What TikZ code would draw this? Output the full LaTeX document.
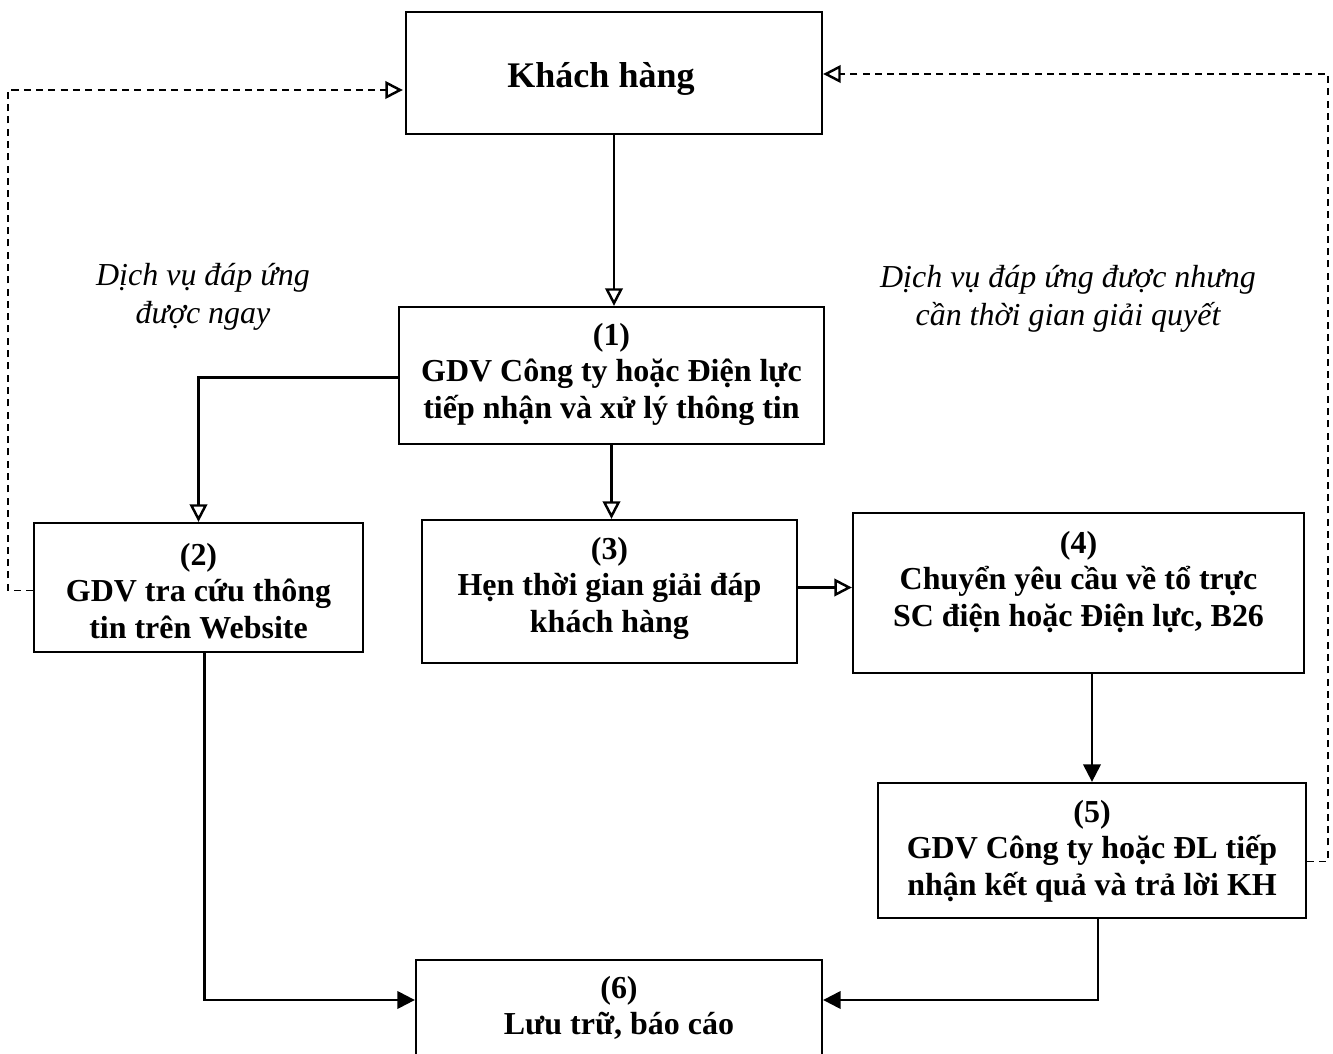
\documentclass[tikz,border=0pt]{standalone}
\usepackage{fontspec}
\setmainfont{Liberation Serif}
\usetikzlibrary{arrows.meta,calc}
\begin{document}
\begin{tikzpicture}[x=0.02cm,y=-0.02cm,
  box/.style={draw,line width=1.3pt,inner sep=0pt},
  txt/.style={align=center,font=\fontsize{18.2}{20.8}\selectfont\bfseries,inner sep=0pt},
  lbl/.style={align=center,font=\fontsize{18.2}{21.5}\selectfont\itshape,inner sep=0pt},
  conn/.style={line width=1.3pt},
  opena/.style={-{Triangle[open,length=10pt,width=10pt,line width=1.4pt]}},
  filla/.style={-{Triangle[length=10pt,width=10pt]}},
  dsh/.style={line width=0.9pt,dash pattern=on 4pt off 3pt}]
\useasboundingbox (0,0) rectangle (1333,1054);
\fill[white] (0,0) rectangle (1333,1054);
% boxes
\node[box,minimum width=416*0.02cm,minimum height=122*0.02cm] (kh) at (614,73) {};
\node[txt,font=\fontsize{20.5}{23}\selectfont\bfseries] (tkh) at (601,79) {Khách hàng};
\node[box,minimum width=425*0.02cm,minimum height=137*0.02cm] (b1) at (611.5,375.5) {};
\node[txt] (t1) at (611.5,374) {(1)\\GDV Công ty hoặc Điện lực\\tiếp nhận và xử lý thông tin};
\node[box,minimum width=329*0.02cm,minimum height=129*0.02cm] (b2) at (198.5,587.5) {};
\node[txt] (t2) at (198.5,591) {(2)\\GDV tra cứu thông\\tin trên Website};
\node[box,minimum width=375*0.02cm,minimum height=143*0.02cm] (b3) at (609.5,591.5) {};
\node[txt] (t3) at (609.5,588) {(3)\\Hẹn thời gian giải đáp\\khách hàng};
\node[box,minimum width=451*0.02cm,minimum height=160*0.02cm] (b4) at (1078.5,593) {};
\node[txt] (t4) at (1078.5,582) {(4)\\Chuyển yêu cầu về tổ trực\\SC điện hoặc Điện lực, B26};
\node[box,minimum width=428*0.02cm,minimum height=135*0.02cm] (b5) at (1092,850.5) {};
\node[txt] (t5) at (1092,851) {(5)\\GDV Công ty hoặc ĐL tiếp\\nhận kết quả và trả lời KH};
\node[box,minimum width=406*0.02cm,minimum height=100*0.02cm] (b6) at (619,1010) {};
\node[txt] (t6) at (619,1008) {(6)\\Lưu trữ, báo cáo};
% labels
\node[lbl] (l1) at (203,297) {Dịch vụ đáp ứng\\được ngay};
\node[lbl] (l2) at (1068,299) {Dịch vụ đáp ứng được nhưng\\cần thời gian giải quyết};
% helper coordinates for the dashed return lines
\coordinate (lx) at (8,0);
\coordinate (rx) at (1328,0);
% connectors
\draw[conn,opena] (kh.south) -- (kh.south |- b1.north);
\draw[conn,opena] ($(b1.west)+(0,2)$) -- ($(b2.north |- b1.west)+(0,2)$) -- (b2.north);
\draw[conn,opena] (b1.south) -- (b1.south |- b3.north);
\draw[conn,opena] ($(b3.east)+(0,-4)$) -- ($(b4.west |- b3.east)+(0,-4)$);
\draw[conn,filla] (b5.north |- b4.south) -- (b5.north);
\draw[conn,filla] ($(b2.south)+(6,0)$) -- ($(b2.south |- b6.west)+(6,-10)$) -- ($(b6.west)+(0,-10)$);
\draw[conn,filla] ($(b5.south)+(6,0)$) -- ($(b5.south |- b6.east)+(6,-10)$) -- ($(b6.east)+(0,-10)$);
\draw[dsh,opena] ($(b2.west)+(0,3)$) -- ($(lx |- b2.west)+(0,3)$) -- ($(lx |- kh.west)+(0,17)$) -- ($(kh.west)+(-2,17)$);
\draw[dsh,opena] ($(b5.east)+(0,11)$) -- ($(rx |- b5.east)+(0,11)$) -- ($(rx |- kh.east)+(0,1)$) -- ($(kh.east)+(0,1)$);
\end{tikzpicture}
\end{document}
